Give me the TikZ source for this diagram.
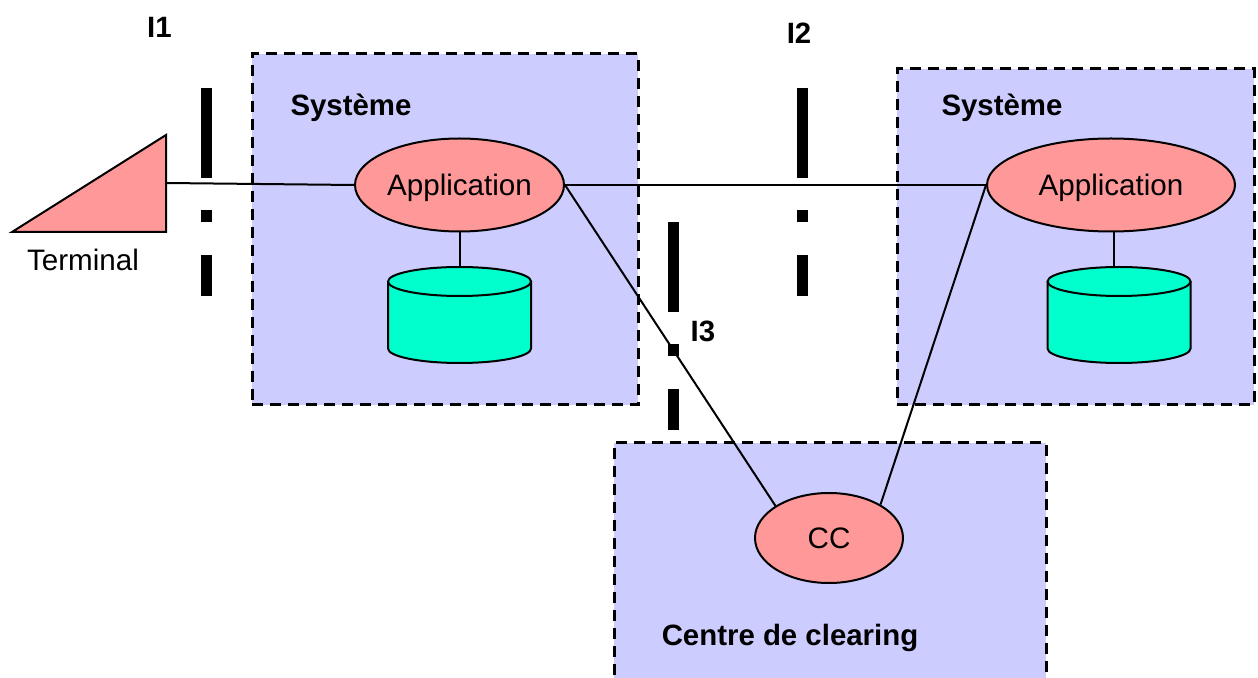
\documentclass[tikz,border=0pt]{standalone}
\usepackage{fontspec}
\setmainfont{Liberation Sans}
\usetikzlibrary{shapes.geometric}
\definecolor{boxblue}{HTML}{CCCCFF}
\definecolor{salmon}{HTML}{FF9999}
\definecolor{dbgreen}{HTML}{00FFCC}
\begin{document}
\begin{tikzpicture}[x=0.5pt,y=-0.5pt,line width=1pt,font=\fontsize{14.8pt}{17pt}\selectfont,
sysbox/.style={draw,fill=boxblue,line width=1.5pt,dash pattern=on 5.5pt off 3.5pt,inner sep=0pt},
proc/.style={draw,ellipse,fill=salmon,inner sep=0pt,text depth=0pt},
db/.style={draw,fill=dbgreen},
title/.style={font=\fontsize{14.7pt}{17pt}\selectfont\bfseries,text depth=0pt},
bar/.style={fill=black,draw=none}]
\clip (0,0) rectangle (1258,678);
\node[sysbox,minimum width=193pt,minimum height=175.5pt] (sysa) at (445,229.5){};
\node[sysbox,minimum width=178.5pt,minimum height=168pt] (sysb) at (1075.5,237){};
\node[sysbox,minimum width=216pt,minimum height=123.5pt] (clearing) at (830,566.5){};
% interfaces
\foreach \ix/\iy in {206.5/88,802.5/88,673.5/222}{
\fill[bar] (\ix-5.5,\iy) rectangle +(11,90);
\fill[bar] (\ix-5.5,\iy+122) rectangle +(11,12);
\fill[bar] (\ix-5.5,\iy+167) rectangle +(11,41);
}
% cylinders
\foreach \dx/\dbname in {459.5/dba,1119/dbb}{
\draw[db] (\dx-71.5,281.5) -- (\dx-71.5,348.5) arc[start angle=180,end angle=0,x radius=71.5,y radius=14.5] -- (\dx+71.5,281.5);
\draw[db] (\dx,281.5) ellipse[x radius=71.5,y radius=14.5];
\coordinate (\dbname) at (\dx,267);
}
\draw[fill=salmon,line join=miter] (12,232) -- (166,135) -- (166,232) -- cycle;
\coordinate (term) at (166,183);
\coordinate (dbbtop) at (1114,267);
\coordinate (appbfoot) at (1114,232);
\node[proc,minimum width=104.5pt,minimum height=46.5pt] (appa) at (459.5,185){Application};
\node[proc,minimum width=124pt,minimum height=46.5pt] (appb) at (1111,185){Application};
\node[proc,minimum width=74pt,minimum height=45pt] (cc) at (829,538){CC};
\draw (term) -- (appa.west);
\draw (appa.east) -- (appb.west);
\draw (appa.east) -- (cc.149);
\draw (appb.west) -- (cc.33);
\draw (appa.south) -- (dba);
\draw (appbfoot) -- (dbbtop);
\node (terminal) at (83,260){Terminal};
\node[title] (ia) at (159.5,27){I1};
\node[title] (ib) at (799,33){I2};
\node[title] (ic) at (703,331){I3};
\node[title] (sysatxt) at (351,105){Système};
\node[title] (sysbtxt) at (1002,105){Système};
\node[title] (cctxt) at (790,635){Centre de clearing};
\end{tikzpicture}
\end{document}
